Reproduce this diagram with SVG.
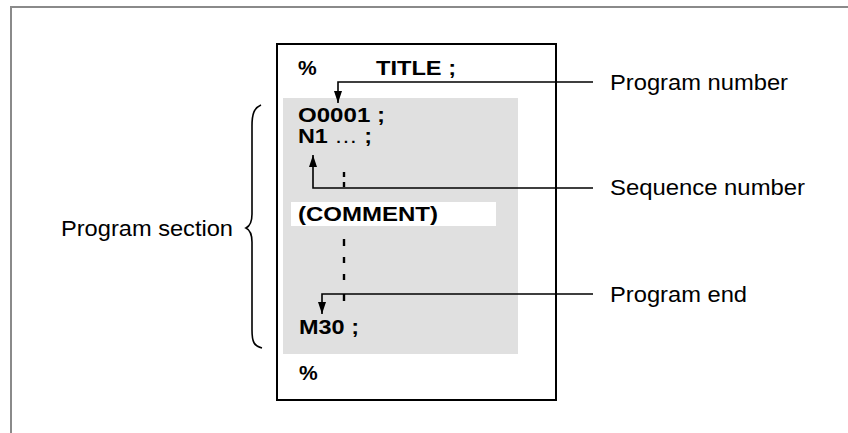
<svg xmlns="http://www.w3.org/2000/svg" width="848" height="433" viewBox="0 0 848 433">
<style>
.b{font-family:"Liberation Sans",Arial,sans-serif;font-weight:bold;font-size:21px;fill:#000}
.r{font-family:"Liberation Sans",Arial,sans-serif;font-size:22px;fill:#000}
.ln{stroke:#000;stroke-width:1.6;fill:none}
.dash{stroke:#000;stroke-width:2.4}
</style>
<defs>
<marker id="ah" viewBox="0 0 12 8" refX="12" refY="4" markerWidth="12" markerHeight="8" markerUnits="userSpaceOnUse" orient="auto" preserveAspectRatio="none">
<path d="M0,0 L12,4 L0,8 z" fill="#000"/>
</marker>
</defs>
<rect width="848" height="433" fill="#fff"/>
<path d="M11,433 V7 H848" stroke="#8a8a8a" stroke-width="2" fill="none"/>
<g id="program">
<rect x="277" y="44" width="279" height="356" fill="#fff" stroke="#000" stroke-width="2"/>
<rect x="283" y="98" width="235" height="256" fill="#e0e0e0"/>
<rect x="291" y="202" width="205" height="24" fill="#fff"/>
<text class="b" x="298" y="75">%</text>
<text class="b" x="376" y="75" textLength="80" lengthAdjust="spacingAndGlyphs">TITLE ;</text>
<text class="b" x="298" y="122" font-size="20" textLength="87" lengthAdjust="spacingAndGlyphs">O0001 ;</text>
<text class="b" x="298" y="143" font-size="20" textLength="74" lengthAdjust="spacingAndGlyphs">N1 <tspan font-weight="normal">…</tspan> ;</text>
<text class="b" x="298" y="221" textLength="140" lengthAdjust="spacingAndGlyphs">(COMMENT)</text>
<text class="b" x="299" y="334" textLength="60" lengthAdjust="spacingAndGlyphs">M30 ;</text>
<text class="b" x="299" y="380">%</text>
</g>
<g id="dots">
<line class="dash" x1="344" y1="172" x2="344" y2="177"/>
<line class="dash" x1="344" y1="182" x2="344" y2="187"/>
<line class="dash" x1="344" y1="239" x2="344" y2="246"/>
<line class="dash" x1="344" y1="257" x2="344" y2="263"/>
<line class="dash" x1="344" y1="274" x2="344" y2="280"/>
<line class="dash" x1="344" y1="294" x2="344" y2="301"/>
</g>
<g id="section">
<path class="ln" d="M261,105 C254,108 252,114 252,126 L252,214 C252,222 250,226 246,228 C250,230 252,234 252,242 L252,330 C252,342 254,346 262,348"/>
<text class="r" x="61" y="236" textLength="172" lengthAdjust="spacingAndGlyphs">Program section</text>
</g>
<g id="labels">
<text class="r" x="610" y="90" textLength="178" lengthAdjust="spacingAndGlyphs">Program number</text>
<text class="r" x="610" y="195" textLength="195" lengthAdjust="spacingAndGlyphs">Sequence number</text>
<text class="r" x="610" y="302" textLength="137" lengthAdjust="spacingAndGlyphs">Program end</text>
</g>
<g id="connectors">
<path class="ln" d="M593,82 H338 V103" marker-end="url(#ah)"/>
<path class="ln" d="M593,188 H313 V155" marker-end="url(#ah)"/>
<path class="ln" d="M593,294 H322 V314" marker-end="url(#ah)"/>
</g>
</svg>
